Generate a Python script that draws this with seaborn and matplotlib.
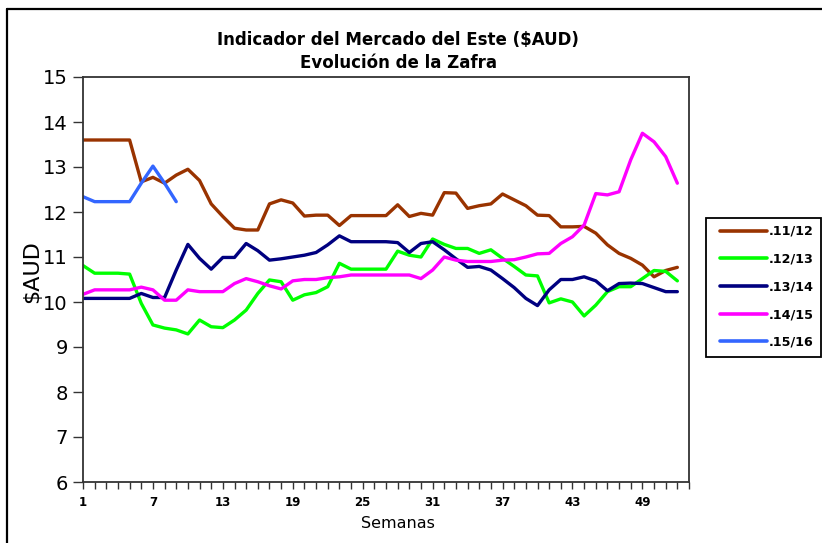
import matplotlib
matplotlib.use("Agg")
import matplotlib.pyplot as plt
import seaborn as sns
import pandas as pd
import numpy as np
from matplotlib.lines import Line2D
from matplotlib.patches import Rectangle

seasons = [".11/12", ".12/13", ".13/14", ".14/15", ".15/16"]
colors = ["#993300", "#00FF00", "#000080", "#FF00FF", "#3366FF"]

s1112 = [13.6, 13.6, 13.6, 13.6, 13.6, 12.67, 12.77, 12.64, 12.82, 12.95,
         12.7, 12.18, 11.9, 11.64, 11.6, 11.6, 12.18, 12.27, 12.2, 11.91,
         11.93, 11.93, 11.7, 11.92, 11.92, 11.92, 11.92, 12.16, 11.9, 11.97,
         11.93, 12.43, 12.42, 12.08, 12.14, 12.18, 12.4, 12.27, 12.14, 11.93,
         11.92, 11.67, 11.67, 11.68, 11.53, 11.27, 11.08, 10.97, 10.82, 10.56,
         10.7, 10.77]
s1213 = [10.81, 10.64, 10.64, 10.64, 10.62, 9.97, 9.49, 9.42, 9.38, 9.29,
         9.6, 9.45, 9.43, 9.6, 9.82, 10.19, 10.49, 10.45, 10.04, 10.16,
         10.21, 10.34, 10.86, 10.73, 10.73, 10.73, 10.73, 11.13, 11.04, 11.0,
         11.4, 11.28, 11.19, 11.19, 11.08, 11.16, 10.97, 10.79, 10.6, 10.58,
         9.98, 10.07, 10.0, 9.69, 9.93, 10.23, 10.34, 10.34, 10.52, 10.7,
         10.68, 10.47]
s1314 = [10.08, 10.08, 10.08, 10.08, 10.08, 10.19, 10.1, 10.1, 10.71, 11.28,
         10.97, 10.73, 10.99, 10.99, 11.3, 11.14, 10.93, 10.96, 11.0, 11.04,
         11.1, 11.27, 11.47, 11.34, 11.34, 11.34, 11.34, 11.32, 11.1, 11.3,
         11.34, 11.16, 10.96, 10.77, 10.79, 10.71, 10.52, 10.32, 10.08, 9.92,
         10.27, 10.5, 10.5, 10.56, 10.47, 10.25, 10.41, 10.42, 10.41, 10.32,
         10.23, 10.23]
s1415 = [10.17, 10.27, 10.27, 10.27, 10.27, 10.33, 10.27, 10.04, 10.04, 10.27,
         10.23, 10.23, 10.23, 10.41, 10.52, 10.45, 10.36, 10.29, 10.47, 10.5,
         10.5, 10.54, 10.56, 10.6, 10.6, 10.6, 10.6, 10.6, 10.6, 10.52,
         10.71, 11.0, 10.93, 10.9, 10.9, 10.9, 10.93, 10.94, 11.0, 11.07,
         11.08, 11.3, 11.45, 11.71, 12.41, 12.38, 12.45, 13.16, 13.75, 13.56,
         13.23, 12.64]
s1516 = [12.34, 12.23, 12.23, 12.23, 12.23, 12.64, 13.02, 12.64, 12.23]

series = [s1112, s1213, s1314, s1415, s1516]
xtick_labels = [1, 7, 13, 19, 25, 31, 37, 43, 49]

rows = []
for name, vals in zip(seasons, series):
    for i, v in enumerate(vals):
        rows.append({"Semana": i + 1, "Valor": v, "Temporada": name})
df = pd.DataFrame(rows)

sns.set_style("white")
plt.rcParams["font.family"] = ["DejaVu Sans"]
for k in ["text.color", "axes.labelcolor", "xtick.color", "ytick.color"]:
    plt.rcParams[k] = "black"

W, H = 822, 543
fig = plt.figure(figsize=(W / 100, H / 100), dpi=100)
ax = fig.add_axes([83 / W, 1 - 482 / H, (689 - 83) / W, (482 - 77) / H])

palette = dict(zip(seasons, colors))
sns.lineplot(data=df, x="Semana", y="Valor", hue="Temporada", palette=palette,
             linewidth=2.4, ax=ax, legend=False, sort=False)

ax.set_xlim(1, 53)
ax.set_ylim(6, 15)
ax.set_yticks(range(6, 16))
ax.set_yticklabels([str(v) for v in range(6, 16)], fontsize=14)
ax.set_xticks(xtick_labels)
ax.set_xticklabels([str(v) for v in xtick_labels], fontsize=8.5, fontweight="bold")
ax.set_xticks(range(1, 54), minor=True)
ax.tick_params(axis="y", which="major", direction="out", length=7, width=1, color="#333333", left=True, pad=4)
ax.tick_params(axis="x", which="major", direction="out", length=5, width=1, color="#333333", bottom=True, pad=5)
ax.tick_params(axis="x", which="minor", direction="out", length=5, width=1, color="#333333", bottom=True)
for sp in ax.spines.values():
    sp.set_visible(True)
    sp.set_color("#333333")
    sp.set_linewidth(1.3)
ax.set_xlabel("")
ax.set_ylabel("")

fig.text(398 / W, 1 - 523 / H, "Semanas", ha="center", va="center", fontsize=11.5)
fig.text(32 / W, 1 - 272 / H, "$AUD", ha="center", va="center", rotation=90, fontsize=16)
fig.text(398 / W, 1 - 40 / H, "Indicador del Mercado del Este ($AUD)", ha="center", va="center",
         fontsize=12, fontweight="bold")
fig.text(398 / W, 1 - 63 / H, "Evolución de la Zafra", ha="center", va="center",
         fontsize=12, fontweight="bold")

# legend frame
fig.add_artist(Rectangle((706 / W, 1 - 357 / H), (821 - 706) / W, (357 - 218) / H,
                         transform=fig.transFigure, fill=True, facecolor="white",
                         edgecolor="black", lw=1.3))
handles = [Line2D([0], [0], color=c, lw=2.6) for c in colors]
leg = fig.legend(handles, seasons, loc="upper left", bbox_to_anchor=(720 / W, 1 - 225 / H),
                 bbox_transform=fig.transFigure, frameon=False,
                 handlelength=3.7, handletextpad=0.15, labelspacing=1.15,
                 borderpad=0, prop={"size": 9.2, "weight": "bold"}, borderaxespad=0)

# chart-area border (left and top edges visible)
fig.add_artist(Line2D([7 / W, 7 / W], [0, 1 - 9 / H], transform=fig.transFigure, color="black", lw=1.6))
fig.add_artist(Line2D([7 / W, 1], [1 - 9 / H, 1 - 9 / H], transform=fig.transFigure, color="black", lw=1.6))

fig.savefig("out.png", dpi=100)
